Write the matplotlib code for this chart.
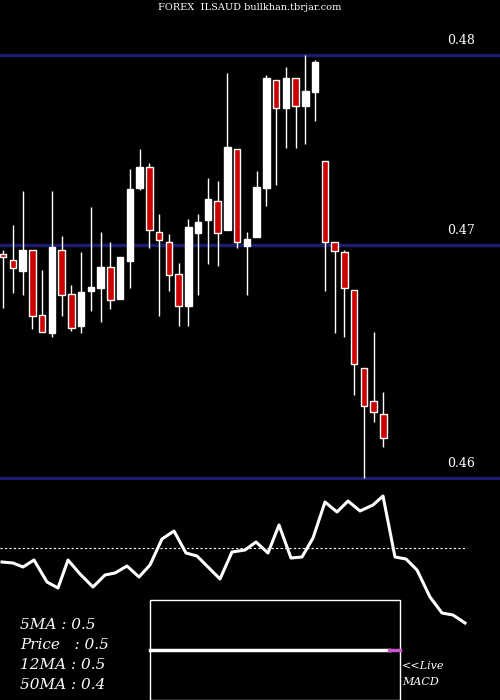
import matplotlib
matplotlib.use("Agg")
import matplotlib.pyplot as plt
import numpy as np

# candle data in price units (converted from reading)
def p(y):
    return round(0.48 - (y - 55) / 19000, 5)

opens_px  = [254,260,271,250,315,333,250,294,326,291,288,267,299,261,188,167,232,242,274,306,233,220,201,230,149,246,237,188,80,108,78,106,92,161,242,252,290,368,401,414]
closes_px = [257,268,250,316,332,247,295,328,292,287,267,300,257,189,167,230,240,275,306,227,222,199,233,147,242,239,187,78,108,78,106,91,62,242,251,288,364,406,412,438]
highs_px  = [250,225,191,250,270,191,236,285,252,207,232,242,257,169,149,163,214,234,263,219,214,178,181,73,149,232,171,75,80,67,78,55,60,161,242,250,290,368,332,392]
lows_px   = [308,293,295,329,332,337,316,331,333,311,322,309,299,288,190,248,316,291,326,326,295,264,266,230,248,295,237,206,185,148,148,144,121,291,333,337,395,478,422,447]
opens = [p(v) for v in opens_px]
closes = [p(v) for v in closes_px]
highs = [p(v) for v in highs_px]
lows = [p(v) for v in lows_px]

level_vals = [0.48, 0.47, p(478)]
level_labels = ["0.48", "0.47", "0.46"]

osc_x = [2,13,23,34,47,58,68,80,93,105,115,127,139,150,162,174,186,197,220,232,245,256,268,279,291,302,313,325,337,348,360,373,383,395,406,417,430,442,453,465]
osc_y_px = [562,563,567,560,582,588,560,574,587,575,573,566,577,565,539,531,553,556,579,552,550,542,553,525,558,557,538,502,512,501,511,505,496,557,559,570,597,613,615,623]
osc = [548 - v for v in osc_y_px]

fig = plt.figure(figsize=(5, 7), dpi=100, facecolor="black")
ax = fig.add_axes([0, 220/700, 1, 480/700])
ax.set_facecolor("black")
ax.set_xlim(0, 500)
ax.set_ylim(0.48 - 425/19000, 0.48 + 55/19000)
ax.axis("off")
navy = "#1c1c6e"
for v, lab in zip(level_vals, level_labels):
    ax.axhline(v, color=navy, lw=2.5, zorder=1)
    ax.text(447, v + 0.0004, lab, color="white", fontsize=9, family="DejaVu Serif", va="bottom", ha="left")
ax.text(250, 0.48 + 48/19000, "FOREX  ILSAUD bullkhan.tbrjar.com", color="white", fontsize=7,
        family="DejaVu Serif", ha="center", va="center")
for i in range(len(opens)):
    x = 3 + i * 9.75
    o, c, h, l = opens[i], closes[i], highs[i], lows[i]
    ax.vlines(x, l, h, color="white", lw=1, zorder=2)
    col = "#cc0000" if c < o else "white"
    ax.bar(x, abs(c - o) if abs(c - o) > 0 else 0.00005, bottom=min(o, c), width=6.5,
           color=col, edgecolor="white", lw=1, zorder=3)

ax2 = fig.add_axes([0, 0, 1, 220/700])
ax2.set_facecolor("black")
ax2.set_xlim(0, 500)
ax2.set_ylim(-152, 68)
ax2.axis("off")
ax2.axhline(0, xmin=0, xmax=467/500, color="white", lw=0.8, ls=(0, (2, 2)))
ax2.plot(osc_x, osc, color="white", lw=2.2)
ax2.add_patch(plt.Rectangle((150, -152), 250, 100, fill=True, facecolor="black", edgecolor="white", lw=1, zorder=4))
ax2.plot([150, 389], [-102, -102], color="white", lw=2.5, zorder=5)
ax2.plot([389, 400], [-102, -102], color="#cc55cc", lw=2.5, zorder=5)
ax2.text(402, -118, "<<Live", color="white", fontsize=8, family="DejaVu Serif", style="italic", va="center")
ax2.text(402, -134, "MACD", color="white", fontsize=8, family="DejaVu Serif", style="italic", va="center")
for j, t in enumerate(["5MA : 0.5", "Price   : 0.5", "12MA : 0.5", "50MA : 0.4"]):
    ax2.text(20, -77 - j * 20, t, color="white", fontsize=11, family="DejaVu Serif", style="italic", va="center")

fig.savefig("out.png", dpi=100, facecolor="black")
